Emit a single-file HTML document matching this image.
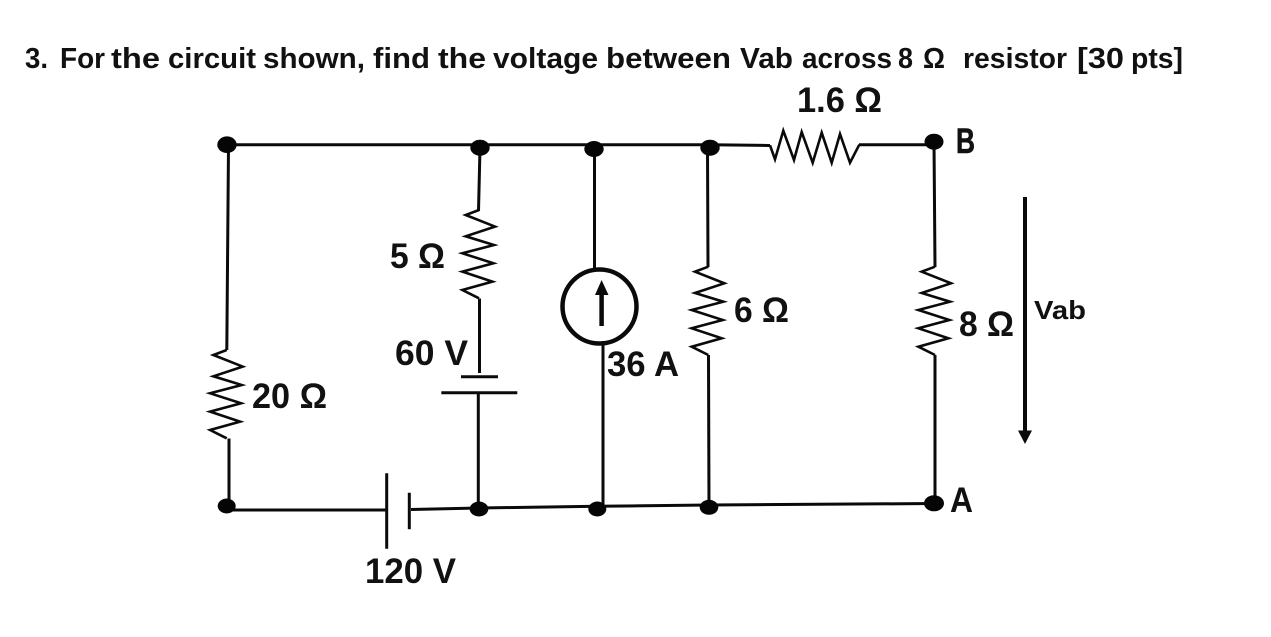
<!DOCTYPE html>
<html>
<head>
<meta charset="utf-8">
<style>
html,body{margin:0;padding:0;background:#fff;width:1271px;height:637px;overflow:hidden}
svg{display:block;filter:blur(.35px)}
text{font-family:"Liberation Sans",sans-serif;font-weight:bold;fill:#111}
.w{fill:none;stroke:#0a0a0a;stroke-width:3;stroke-linejoin:miter}
.r{fill:none;stroke:#0a0a0a;stroke-width:2.6;stroke-linejoin:miter}
.l{font-size:35px}
.t{font-size:29px}
</style>
</head>
<body>
<svg width="1271" height="637" viewBox="0 0 1271 637" xmlns="http://www.w3.org/2000/svg">
<defs>
<polyline id="res" class="r" points="708.3,266.7 695,271.7 724.3,283.3 695,293 723.3,301.7 691.7,310 722.7,320 691.7,328.3 721.7,338.3 691.7,346.7 708.3,355"/>
</defs>
<rect width="1271" height="637" fill="#fff"/>

<g class="t" lengthAdjust="spacingAndGlyphs">
<text class="t" x="25" y="68" textLength="23" lengthAdjust="spacingAndGlyphs">3.</text>
<text class="t" x="60" y="68" textLength="45" lengthAdjust="spacingAndGlyphs">For</text>
<text class="t" x="111" y="68" textLength="49" lengthAdjust="spacingAndGlyphs">the</text>
<text class="t" x="168" y="68" textLength="88" lengthAdjust="spacingAndGlyphs">circuit</text>
<text class="t" x="263" y="68" textLength="102" lengthAdjust="spacingAndGlyphs">shown,</text>
<text class="t" x="373" y="68" textLength="57" lengthAdjust="spacingAndGlyphs">find</text>
<text class="t" x="438" y="68" textLength="48" lengthAdjust="spacingAndGlyphs">the</text>
<text class="t" x="493" y="68" textLength="105" lengthAdjust="spacingAndGlyphs">voltage</text>
<text class="t" x="606" y="68" textLength="125" lengthAdjust="spacingAndGlyphs">between</text>
<text class="t" x="740" y="68" textLength="53" lengthAdjust="spacingAndGlyphs">Vab</text>
<text class="t" x="802" y="68" textLength="90" lengthAdjust="spacingAndGlyphs">across</text>
<text class="t" x="898" y="68" textLength="15" lengthAdjust="spacingAndGlyphs">8</text>
<text class="t" x="923" y="68" textLength="22" lengthAdjust="spacingAndGlyphs">Ω</text>
<text class="t" x="963" y="68" textLength="104" lengthAdjust="spacingAndGlyphs">resistor</text>
<text class="t" x="1077" y="68" textLength="47" lengthAdjust="spacingAndGlyphs">[30</text>
<text class="t" x="1131" y="68" textLength="52" lengthAdjust="spacingAndGlyphs">pts]</text>
</g>

<!-- top rail -->
<path class="w" d="M227 144.7H710L770 145.5"/>
<polyline class="r" points="770,145.3 775,159.3 783.3,130.7 794,160 801.7,132 812.7,162.7 821.7,132.7 831.7,162.7 840,134 850,162.7 859.3,144.7"/>
<path class="w" d="M859 144.7H934"/>

<!-- 20 ohm branch -->
<path class="w" d="M228.5 146L226.8 350"/>
<use href="#res" transform="translate(-481.6,83.3)"/>
<path class="w" d="M229 438.5V506"/>

<!-- 5 ohm + 60V -->
<path class="w" d="M480 148L478.5 211"/>
<use href="#res" transform="translate(-229.3,-56.7)"/>
<path class="w" d="M479.5 298.5V373"/>
<path class="w" d="M461 376.7H498M441.3 392.7H517.3M478.3 393V509"/>

<!-- current source -->
<path class="w" d="M594.5 149V268M603 341V506"/>
<circle cx="599.5" cy="306.5" r="37" fill="none" stroke="#0a0a0a" stroke-width="4.5"/>
<path d="M601.6 326V292" stroke="#0a0a0a" stroke-width="4.5" fill="none"/>
<polygon points="601.6,280 608.5,295 595,295" fill="#0a0a0a"/>

<!-- 6 ohm -->
<path class="w" d="M707.5 148L708 267"/>
<use href="#res"/>
<path class="w" d="M708.5 355L709 507"/>

<!-- 8 ohm -->
<path class="w" d="M934 142L935 267"/>
<use href="#res" transform="translate(226.7,0)"/>
<path class="w" d="M935 355V503"/>

<!-- bottom rail -->
<path class="w" d="M227 510H386"/>
<path class="w" d="M386.7 473.3V548.7M409.3 492.7V529.3"/>
<path class="w" d="M411 509.5L479 508L597 506.3L709 505L935 503.5"/>

<!-- Vab arrow -->
<path d="M1025 197V432" stroke="#0a0a0a" stroke-width="4" fill="none"/>
<polygon points="1018,430.5 1032,430.5 1025,444" fill="#0a0a0a"/>

<!-- junction dots -->
<g fill="#050505">
<ellipse cx="227" cy="144.7" rx="9.7" ry="8.3"/>
<ellipse cx="480" cy="147.7" rx="9.7" ry="8"/>
<ellipse cx="594" cy="149" rx="9.7" ry="8"/>
<ellipse cx="710" cy="147.7" rx="9.7" ry="8"/>
<ellipse cx="934" cy="141.7" rx="9.5" ry="8"/>
<ellipse cx="226.7" cy="506" rx="9" ry="7.5"/>
<ellipse cx="479" cy="509" rx="9.3" ry="7.5"/>
<ellipse cx="597.3" cy="509" rx="9" ry="7.5"/>
<ellipse cx="709" cy="507.3" rx="9.3" ry="7.5"/>
<ellipse cx="934" cy="503.3" rx="10" ry="8"/>
</g>

<!-- labels -->
<text class="l" x="797" y="112" textLength="85" lengthAdjust="spacingAndGlyphs">1.6 Ω</text>
<text class="l" x="390" y="268" textLength="55" lengthAdjust="spacingAndGlyphs">5 Ω</text>
<text class="l" x="395" y="365" textLength="73" lengthAdjust="spacingAndGlyphs">60 V</text>
<text class="l" x="252" y="408" textLength="75" lengthAdjust="spacingAndGlyphs">20 Ω</text>
<text class="l" x="365" y="583" textLength="91" lengthAdjust="spacingAndGlyphs">120 V</text>
<text class="l" x="734" y="322" textLength="55" lengthAdjust="spacingAndGlyphs">6 Ω</text>
<text class="l" x="959" y="336" textLength="55" lengthAdjust="spacingAndGlyphs">8 Ω</text>
<text class="l" x="607" y="376" textLength="72" lengthAdjust="spacingAndGlyphs">36 A</text>
<text x="1034" y="319" font-size="26" textLength="52" lengthAdjust="spacingAndGlyphs">Vab</text>
<text class="l" x="956" y="153" textLength="19" lengthAdjust="spacingAndGlyphs" stroke="#111" stroke-width=".6">B</text>
<text class="l" x="950" y="512" textLength="23" lengthAdjust="spacingAndGlyphs">A</text>
</svg>
</body>
</html>
